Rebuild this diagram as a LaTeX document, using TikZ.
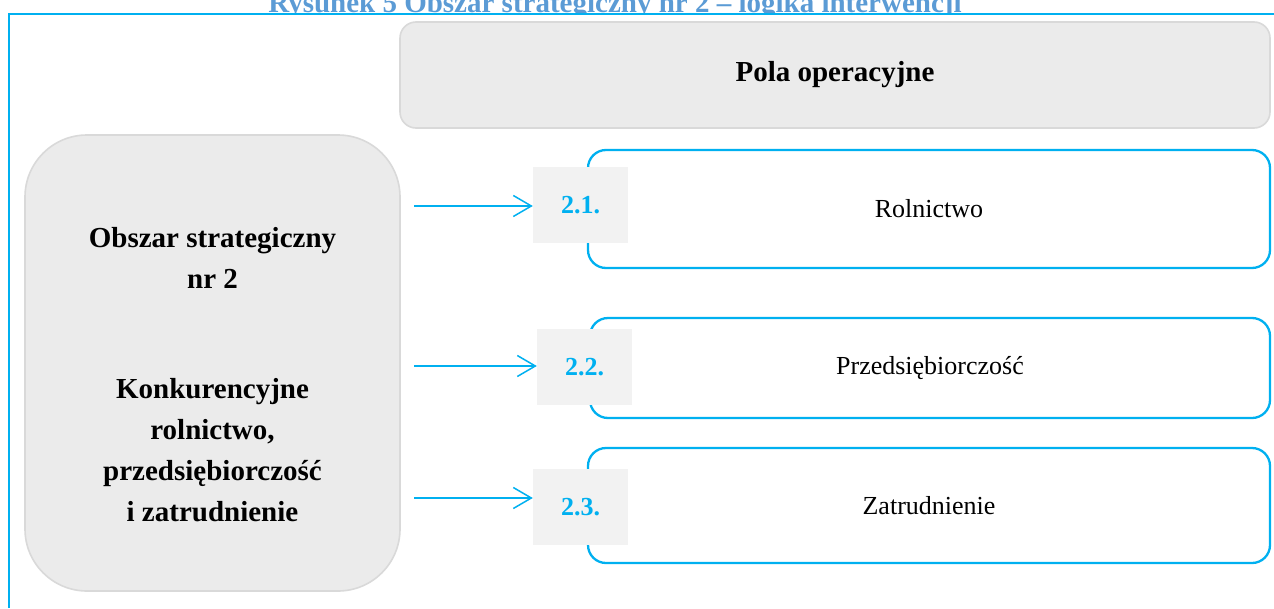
\documentclass[tikz,border=0pt]{standalone}
\usepackage{fontspec}
\setmainfont{Liberation Serif}
\usetikzlibrary{arrows.meta}
\definecolor{cyanb}{HTML}{00B0F0}
\definecolor{titleblue}{HTML}{5B9BD5}
\definecolor{grayfill}{HTML}{EBEBEB}
\definecolor{grayline}{HTML}{D9D9D9}
\definecolor{labelfill}{HTML}{F2F2F2}
\tikzset{
  headfont/.style={font=\fontsize{29}{41}\selectfont\bfseries},
  graybox/.style={draw=grayline, line width=1.6pt, fill=grayfill, inner sep=0pt},
  bluebox/.style={draw=cyanb, line width=2.3pt, fill=white, rounded corners=18pt, inner sep=0pt,
     font=\fontsize{26}{30}\selectfont},
  labelbox/.style={fill=labelfill, inner sep=0pt, minimum width=95pt, minimum height=76pt,
     text=cyanb, font=\fontsize{26}{30}\selectfont\bfseries},
  arr/.style={draw=cyanb, line width=1.5pt, -{Straight Barb[length=18pt,width=21pt,line width=1.5pt]}},
  frame/.style={draw=cyanb, line width=2.5pt},
}
\begin{document}
\begin{tikzpicture}[x=1pt,y=-1pt]
\useasboundingbox (0,0) rectangle (1274,608);
\clip (0,0) rectangle (1274,608);
% title (cut by the frame)
\node[headfont, text=titleblue, anchor=base, inner sep=0pt] (title) at (615,12)
  {Rysunek 5 Obszar strategiczny nr 2 – logika interwencji};
\fill[white] (9,14) rectangle (1274,608);
\draw[frame] (9,608) -- (9,14) -- (1274,14);
% header box
\node[graybox, rounded corners=16pt, minimum width=870pt, minimum height=106pt, headfont]
  (pola) at (835,75) {Pola operacyjne};
% left box
\node[graybox, rounded corners=62pt, minimum width=375pt, minimum height=456pt]
  (obszar) at (212.5,363) {};
\node[headfont, align=center, inner sep=0pt] (obszartxt) at (212.5,375)
  {Obszar strategiczny\\nr 2\\[69pt]Konkurencyjne\\rolnictwo,\\przedsiębiorczość\\i zatrudnienie};
% blue boxes
\node[bluebox, minimum width=682pt, minimum height=118pt] (b1) at (929,209) {Rolnictwo};
\node[bluebox, minimum width=680pt, minimum height=100pt] (b2) at (930,368) {Przedsiębiorczość};
\node[bluebox, minimum width=682pt, minimum height=115pt] (b3) at (929,505.5) {Zatrudnienie};
% labels
\node[labelbox] (l1) at (580.5,205) {2.1.};
\node[labelbox] (l2) at (584.5,367) {2.2.};
\node[labelbox] (l3) at (580.5,507) {2.3.};
% arrows
\coordinate (a1) at (414,206);
\coordinate (a2) at (414,366);
\coordinate (a3) at (414,498);
\draw[arr] (a1) -- (a1 -| l1.west);
\draw[arr] (a2) -- (a2 -| l2.west);
\draw[arr] (a3) -- (a3 -| l3.west);
\end{tikzpicture}
\end{document}
